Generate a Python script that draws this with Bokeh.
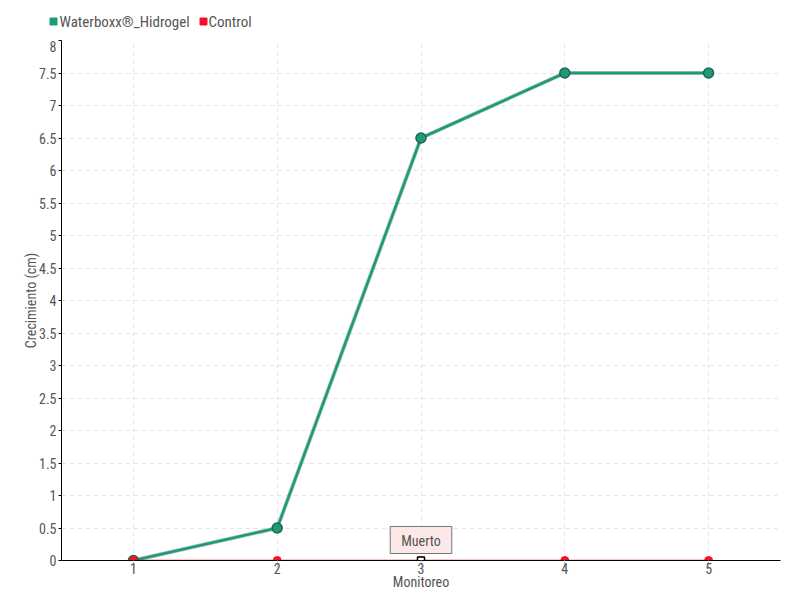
from bokeh.plotting import figure
from bokeh.models import Label, Range1d, FixedTicker
from bokeh.core.properties import value
from bokeh.embed import file_html
from bokeh.resources import INLINE

monitoreo = [1, 2, 3, 4, 5]
waterboxx = [0, 0.5, 6.5, 7.5, 7.5]
control = [0, 0, 0, 0, 0]
muerto_x = [3]
muerto_y = [0]
y_ticks = [0, 0.5, 1, 1.5, 2, 2.5, 3, 3.5, 4, 4.5, 5, 5.5, 6, 6.5, 7, 7.5, 8]
y_labels = ["0", "0.5", "1", "1.5", "2", "2.5", "3", "3.5", "4", "4.5", "5", "5.5", "6", "6.5", "7", "7.5", "8"]
series_names = ["Waterboxx®_Hidrogel", "Control"]

FONT = "Roboto Condensed, Roboto, sans-serif"
GREEN = "#1c9b7b"
GREEN_DARK = "#22664f"
RED = "#f5102a"
TEXT = "#555555"
series_colors = [GREEN, RED]

# ---- legend strip (top) ----
leg = figure(width=800, height=40, output_backend="svg", toolbar_location=None,
             x_range=Range1d(0, 800), y_range=Range1d(0, 40),
             min_border_left=0, min_border_right=0, min_border_top=0, min_border_bottom=0,
             x_axis_type=None, y_axis_type=None)
leg.outline_line_color = None
leg.grid.visible = False
leg_sq_x = [53, 203]
leg_tx_x = [59, 208]
leg.scatter(leg_sq_x, [19, 19], marker="square", size=7, fill_color=series_colors, line_color=series_colors)
leg.text(leg_tx_x, [19, 19], text=series_names, text_font=value(FONT), text_font_size="15px",
         text_color=TEXT, text_baseline="middle", text_align="left")

# ---- main plot ----
p = figure(width=800, height=560, output_backend="svg", toolbar_location=None,
           x_range=Range1d(0.5, 5.5), y_range=Range1d(0, 8),
           min_border_left=61, min_border_right=20, min_border_top=0, min_border_bottom=40)
p.outline_line_color = None
p.background_fill_color = "white"
p.border_fill_color = "white"

p.xaxis.ticker = FixedTicker(ticks=monitoreo)
p.yaxis.ticker = FixedTicker(ticks=y_ticks)
p.yaxis.major_label_overrides = {t: l for t, l in zip(y_ticks, y_labels)}
p.xaxis.axis_label = "Monitoreo"
p.yaxis.axis_label = "Crecimiento (cm)"
for ax in (p.xaxis, p.yaxis):
    ax.axis_label_text_font = FONT
    ax.axis_label_text_font_style = "normal"
    ax.axis_label_text_font_size = "14px"
    ax.axis_label_text_color = TEXT
    ax.major_label_text_font = FONT
    ax.major_label_text_font_size = "14px"
    ax.major_label_text_color = TEXT
    ax.minor_tick_line_color = None
    ax.axis_line_color = "black"
p.xaxis.major_tick_line_color = "#cccccc"
p.xaxis.major_tick_in = 0
p.xaxis.major_tick_out = 8
p.xaxis.major_label_standoff = -6
p.xaxis.axis_label_standoff = -3
p.yaxis.major_tick_line_color = "black"
p.yaxis.major_tick_in = 0
p.yaxis.major_tick_out = 3
p.yaxis.major_label_standoff = 2
p.yaxis.axis_label_standoff = -3

for g in (p.xgrid, p.ygrid):
    g.grid_line_color = "#e3e3e3"
    g.grid_line_dash = "4 4"
    g.grid_line_width = 1

p.line(monitoreo, waterboxx, line_color=GREEN_DARK, line_width=4, line_alpha=0.4)
p.line(monitoreo, waterboxx, line_color=GREEN, line_width=2.5)
p.scatter(monitoreo, waterboxx, marker="circle", size=10, fill_color=GREEN, line_color=GREEN_DARK, line_width=1.5)

p.line(monitoreo, control, line_color=RED, line_width=1.5)
p.scatter(monitoreo, control, marker="circle", size=8, fill_color=RED, line_color=RED)
p.scatter(muerto_x, muerto_y, marker="square", size=7, fill_color="white", line_color="black", line_width=1.5)

lbl = Label(x=3, y=0, x_units="data", y_units="data", text="Muerto", y_offset=7,
            text_align="center", text_baseline="bottom", text_font=FONT,
            text_font_size="14px", text_color=TEXT,
            background_fill_color="#fde8e8", border_line_color="#777777", border_line_width=1,
            padding=dict(left=11, right=11, top=6, bottom=5))
p.add_layout(lbl)

open("out.html", "w").write(file_html([leg, p], INLINE))
